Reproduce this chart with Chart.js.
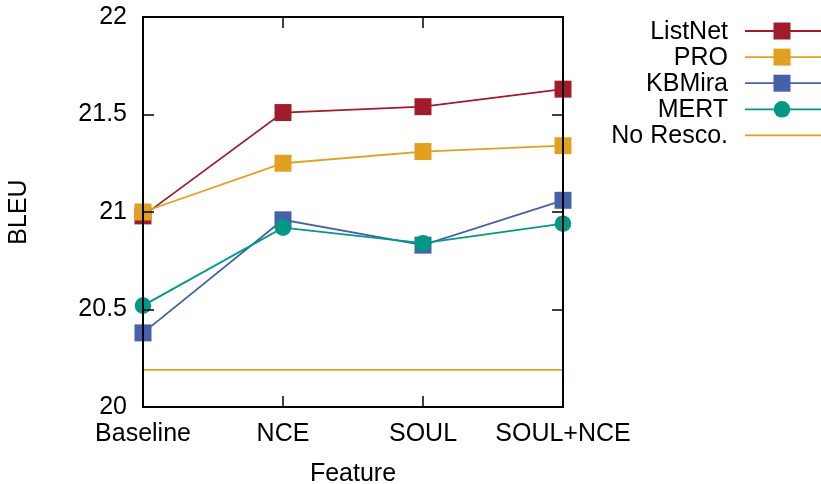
<!DOCTYPE html>
<html>
<head>
<meta charset="utf-8">
<script src="https://cdn.jsdelivr.net/npm/chart.js@4"></script>
<style>
  html, body { margin: 0; padding: 0; background: #fff; }
  #wrap { width: 821px; height: 484px; }
</style>
</head>
<body>
<div id="wrap"><canvas id="bleu"></canvas></div>
<script>
const features = ["Baseline", "NCE", "SOUL", "SOUL+NCE"];
const listnet = [20.98, 21.51, 21.54, 21.63];
const pro = [21.0, 21.25, 21.31, 21.34];
const kbmira = [20.38, 20.96, 20.83, 21.06];
const mert = [20.52, 20.92, 20.84, 20.94];
const noResco = [20.19, 20.19, 20.19, 20.19];
const yTicks = [20, 20.5, 21, 21.5, 22];

const FONT = "'Liberation Sans', Arial, sans-serif";
const FS = 25;

// gnuplot-ish frame, inward ticks and the legend on the right
const framePlugin = {
    id: "frame",
    afterDatasetsDraw(chart) {
        const ctx = chart.ctx;
        const a = chart.chartArea;
        const xs = chart.scales.x, ys = chart.scales.y;
        ctx.save();
        ctx.strokeStyle = "#000";
        ctx.lineWidth = 1.5;
        ctx.beginPath();
        yTicks.forEach(v => {
            const y = Math.round(ys.getPixelForValue(v));
            ctx.moveTo(a.left, y); ctx.lineTo(a.left + 11, y);
            ctx.moveTo(a.right, y); ctx.lineTo(a.right - 11, y);
        });
        features.forEach((f, i) => {
            const x = Math.round(xs.getPixelForValue(i));
            ctx.moveTo(x, a.bottom); ctx.lineTo(x, a.bottom - 11);
            ctx.moveTo(x, a.top); ctx.lineTo(x, a.top + 11);
        });
        ctx.stroke();
        ctx.lineWidth = 2;
        ctx.strokeRect(a.left, a.top, a.right - a.left, a.bottom - a.top);

        // legend
        ctx.font = FS + "px " + FONT;
        ctx.textAlign = "right";
        ctx.textBaseline = "middle";
        chart.data.datasets.forEach((ds, i) => {
            const y = 31 + i * 26.1;
            ctx.fillStyle = "#000";
            ctx.fillText(ds.label, 728, y + 1);
            ctx.strokeStyle = ds.borderColor;
            ctx.lineWidth = ds.borderWidth;
            ctx.beginPath();
            ctx.moveTo(745, y); ctx.lineTo(821, y);
            ctx.stroke();
            if (ds.pointRadius > 0) {
                ctx.fillStyle = ds.backgroundColor;
                if (ds.pointStyle === "circle") {
                    ctx.beginPath();
                    ctx.arc(782, y, 8.3, 0, Math.PI * 2);
                    ctx.fill();
                } else {
                    ctx.fillRect(782 - 8.5, y - 8.5, 17, 17);
                }
            }
        });
        ctx.restore();
    }
};

function series(label, data, color, style, order) {
    return {
        label: label,
        data: data,
        borderColor: color,
        backgroundColor: color,
        borderWidth: 1.8,
        pointStyle: style,
        pointRadius: style === "circle" ? 8.3 : (style ? 12 : 0),
        pointBorderWidth: 0,
        pointHoverRadius: 0,
        tension: 0,
        order: order
    };
}

new Chart(document.getElementById("bleu"), {
    type: "line",
    data: {
        labels: features,
        datasets: [
            series("ListNet", listnet, "#a01c2c", "rect", 3),
            series("PRO", pro, "#e1a01f", "rect", 2),
            series("KBMira", kbmira, "#4461aa", "rect", 1),
            series("MERT", mert, "#019985", "circle", 0),
            series("No Resco.", noResco, "#e1a01f", false, 4)
        ]
    },
    options: {
        responsive: true,
        maintainAspectRatio: false,
        animation: false,
        events: [],
        layout: { padding: { left: 0, right: 258, top: 17, bottom: 0 } },
        plugins: { legend: { display: false }, tooltip: { enabled: false } },
        scales: {
            x: {
                type: "category",
                offset: false,
                grid: { display: false, drawTicks: false, tickLength: 0 },
                border: { display: false },
                ticks: {
                    color: "#000",
                    font: { family: FONT, size: FS },
                    padding: 12,
                    maxRotation: 0,
                    autoSkip: false
                },
                title: {
                    display: true,
                    text: "Feature",
                    color: "#000",
                    font: { family: FONT, size: FS, lineHeight: 0.8 },
                    padding: { top: 0, bottom: 0 }
                },
                afterFit(scale) { scale.height = 77; }
            },
            y: {
                min: 20,
                max: 22,
                grid: { display: false, drawTicks: false, tickLength: 0 },
                border: { display: false },
                afterBuildTicks(scale) { scale.ticks = yTicks.map(v => ({ value: v })); },
                ticks: {
                    color: "#000",
                    font: { family: FONT, size: FS },
                    padding: 16,
                    callback: v => String(v)
                },
                title: {
                    display: true,
                    text: "BLEU",
                    color: "#000",
                    font: { family: FONT, size: FS, lineHeight: 1 },
                    padding: { top: 7, bottom: 0 }
                },
                afterFit(scale) {
                    scale.width = 143;
                    scale.paddingTop = 0;
                    scale.paddingBottom = 0;
                }
            }
        }
    },
    plugins: [framePlugin]
});
</script>
</body>
</html>
